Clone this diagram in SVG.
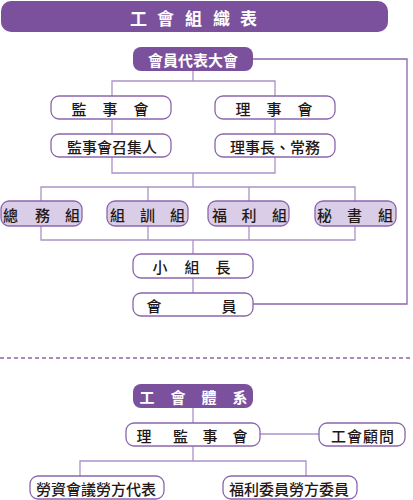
<svg xmlns="http://www.w3.org/2000/svg" width="413" height="500" viewBox="0 0 413 500">
<style>
.t{font-family:"Noto Sans CJK TC","Noto Sans CJK SC",sans-serif;font-size:15px;font-weight:500;fill:#231815;dominant-baseline:central;text-anchor:middle}
.w{fill:#ffffff;font-weight:bold}
.dark{fill:#7b519d}
.box{fill:#ffffff;stroke:#8a66ad;stroke-width:1.3}
.grp{fill:#dacde7;stroke:#8a66ad;stroke-width:1.3}
.ln{fill:none;stroke:#ab92c8;stroke-width:1.3}
</style>
<rect width="413" height="500" fill="#ffffff"/>
<g id="title">
<rect class="dark" x="1" y="1" width="387" height="31" rx="10"/>
<text class="t w" style="font-size:17px" x="138.5 165.5 193.5 221.5 248.5" y="17">工會組織表</text>
</g>
<g id="connectors">
<polyline class="ln" points="193,71 193,81"/>
<polyline class="ln" points="112,96 112,81 275,81 275,96"/>
<line class="ln" x1="112" y1="119" x2="112" y2="134"/>
<line class="ln" x1="275" y1="119" x2="275" y2="134"/>
<polyline class="ln" points="112,157 112,173 275,173 275,157"/>
<line class="ln" x1="193" y1="173" x2="193" y2="187"/>
<polyline class="ln" points="41,201 41,187 355,187 355,201"/>
<line class="ln" x1="148" y1="187" x2="148" y2="201"/>
<line class="ln" x1="249" y1="187" x2="249" y2="201"/>
<polyline class="ln" points="41,226 41,240 355,240 355,226"/>
<line class="ln" x1="148" y1="226" x2="148" y2="240"/>
<line class="ln" x1="249" y1="226" x2="249" y2="240"/>
<line class="ln" x1="193" y1="240" x2="193" y2="254"/>
<line class="ln" x1="193" y1="278" x2="193" y2="293"/>
<polyline class="ln" points="253,59 407,59 407,304 253,304" style="stroke:#8a66ad"/>
<line x1="0" y1="358" x2="413" y2="358" stroke="#8a66ad" stroke-width="1.3" stroke-dasharray="4 3"/>
<line class="ln" x1="193" y1="408" x2="193" y2="423"/>
<line class="ln" x1="260" y1="434" x2="319" y2="434"/>
<line class="ln" x1="193" y1="446" x2="193" y2="461"/>
<polyline class="ln" points="80,476 80,461 306,461 306,476"/>
</g>
<g id="n-congress">
<rect class="dark" x="133" y="47" width="120" height="24" rx="8"/>
<text class="t w" x="193" y="59.5">會員代表大會</text>
</g>
<g id="n-supervisors">
<rect class="box" x="51" y="96" width="120" height="23" rx="8"/>
<text class="t" x="79 110 141" y="108">監事會</text>
</g>
<g id="n-directors">
<rect class="box" x="215" y="96" width="120" height="23" rx="8"/>
<text class="t" x="243 274 305" y="108">理事會</text>
</g>
<g id="n-convener">
<rect class="box" x="51" y="134" width="120" height="23" rx="8"/>
<text class="t" x="112" y="146">監事會召集人</text>
</g>
<g id="n-chair">
<rect class="box" x="215" y="134" width="120" height="23" rx="8"/>
<text class="t" x="275" y="146">理事長、常務</text>
</g>
<g id="n-general">
<rect class="grp" x="1" y="201" width="81" height="25" rx="8"/>
<text class="t" x="10.5 42.5 72.5" y="214">總務組</text>
</g>
<g id="n-training">
<rect class="grp" x="107" y="201" width="81" height="25" rx="8"/>
<text class="t" x="117.5 147.5 177.5" y="214">組訓組</text>
</g>
<g id="n-welfare">
<rect class="grp" x="208" y="201" width="81" height="25" rx="8"/>
<text class="t" x="219.5 249 279.5" y="214">福利組</text>
</g>
<g id="n-secretary">
<rect class="grp" x="315" y="201" width="81" height="25" rx="8"/>
<text class="t" x="324.5 354.5 385.5" y="214">秘書組</text>
</g>
<g id="n-leader">
<rect class="box" x="133" y="254" width="120" height="24" rx="8"/>
<text class="t" x="160 192 223" y="266.5">小組長</text>
</g>
<g id="n-members">
<rect class="box" x="133" y="293" width="120" height="23" rx="8"/>
<text class="t" x="154 229" y="305.5">會員</text>
</g>
<g id="n-system">
<rect class="dark" x="133" y="384" width="120" height="24" rx="8"/>
<text class="t w" x="147 178 209 240" y="396.5">工會體系</text>
</g>
<g id="n-board">
<rect class="box" x="126" y="423" width="134" height="23" rx="8"/>
<text class="t" x="144 180.5 210 240" y="435">理監事會</text>
</g>
<g id="n-advisor">
<rect class="box" x="319" y="423" width="86" height="23" rx="8"/>
<text class="t" x="338.5 354.5 370.5 386.5" y="435">工會顧問</text>
</g>
<g id="n-labor-rep">
<rect class="box" x="30" y="476" width="134" height="23" rx="8"/>
<text class="t" x="96" y="488">勞資會議勞方代表</text>
</g>
<g id="n-welfare-rep">
<rect class="box" x="223" y="476" width="134" height="23" rx="8"/>
<text class="t" x="289" y="488">福利委員勞方委員</text>
</g>
</svg>
